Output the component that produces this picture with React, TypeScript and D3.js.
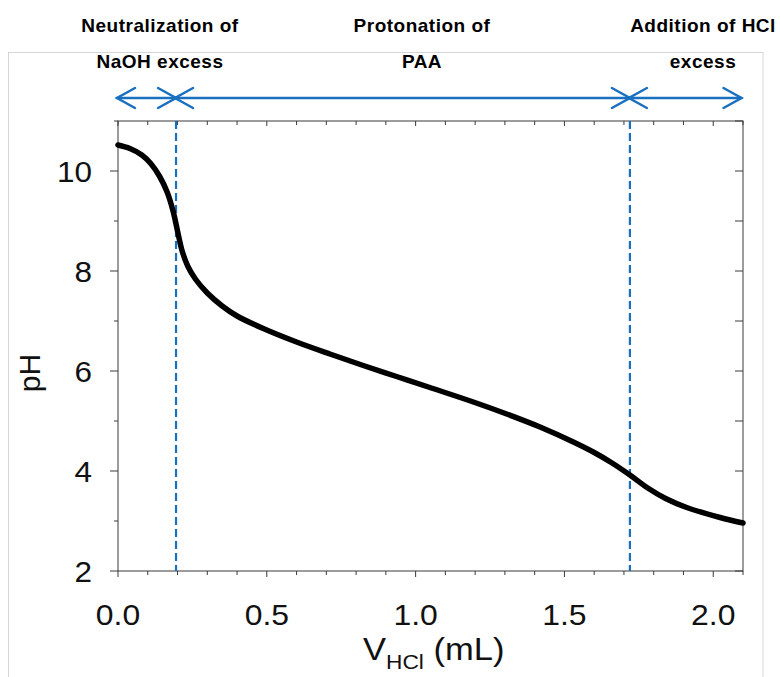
import React from "react";
import * as d3 from "d3";

const volumes = [0, 0.04, 0.08, 0.11, 0.14, 0.165, 0.185, 0.2, 0.215, 0.235, 0.26, 0.3, 0.35, 0.4, 0.488, 0.6, 0.712, 0.824, 0.936, 1.048, 1.194, 1.306, 1.418, 1.53, 1.6, 1.66, 1.72, 1.78, 1.84, 1.911, 2.023, 2.1];
const phValues = [10.52, 10.45, 10.32, 10.15, 9.89, 9.58, 9.2, 8.8, 8.41, 8.09, 7.84, 7.56, 7.3, 7.1, 6.85, 6.58, 6.34, 6.11, 5.89, 5.67, 5.38, 5.14, 4.88, 4.58, 4.37, 4.16, 3.92, 3.66, 3.45, 3.27, 3.07, 2.96];
const xTickLabels = ["0.0", "0.5", "1.0", "1.5", "2.0"];
const xTickValues = [0, 0.5, 1.0, 1.5, 2.0];
const yTickValues = [2, 4, 6, 8, 10];
const boundaries = [0.195, 1.72];
const regionStarts = [0, 0.195, 1.72];
const regionEnds = [0.195, 1.72, 2.095];
const regionLine1 = ["Neutralization of", "Protonation of", "Addition of HCl"];
const regionLine2 = ["NaOH excess", "PAA", "excess"];
const regionLabelX = [160, 422, 703];

const BLUE = "#1a70bf";
const AXIS = "#3a3a3a";

export default function App() {
  const x = d3.scaleLinear().domain([0, 2.1]).range([118, 743]);
  const y = d3.scaleLinear().domain([2, 11]).range([571, 121]);
  const data = volumes.map((v, i) => [v, phValues[i]] as [number, number]);
  const line = d3
    .line<[number, number]>()
    .x((d) => x(d[0]))
    .y((d) => y(d[1]))
    .curve(d3.curveCatmullRom.alpha(0.5));

  const xMinor = d3.range(0, 22).map((i) => i / 10);
  const yMinor = d3.range(2, 12);
  const arrowY = 98;
  const headL = 18;
  const headW = 10;

  const font = "Arial, 'Liberation Sans', Helvetica, sans-serif";

  return (
    <svg
      width={780}
      height={677}
      style={{ position: "absolute", left: 0, top: 0, background: "#fff" }}
      fontFamily={font}
    >
      <rect x={0} y={0} width={780} height={677} fill="#fff" />
      <rect x={8.5} y={52.5} width={754.5} height={700} fill="none" stroke="#d6d6d6" strokeWidth={1} />

      {/* region labels */}
      {regionLine1.map((t, i) => (
        <text key={"l1" + i} x={regionLabelX[i]} y={32} textAnchor="middle" fontWeight="bold" fontSize={19} letterSpacing={0.5} fill="#000">
          {t}
        </text>
      ))}
      {regionLine2.map((t, i) => (
        <text key={"l2" + i} x={regionLabelX[i]} y={68} textAnchor="middle" fontWeight="bold" fontSize={19} letterSpacing={0.5} fill="#000">
          {t}
        </text>
      ))}

      {/* arrows */}
      {regionStarts.map((s, i) => {
        const x0 = x(s) - 1;
        const x1 = x(regionEnds[i]);
        return (
          <g key={"ar" + i} stroke={BLUE} strokeWidth={2.5} fill="none" strokeLinecap="round">
            <line x1={x0} y1={arrowY} x2={x1} y2={arrowY} />
            <path d={`M${x0 + headL},${arrowY - headW} L${x0},${arrowY} L${x0 + headL},${arrowY + headW}`} />
            <path d={`M${x1 - headL},${arrowY - headW} L${x1},${arrowY} L${x1 - headL},${arrowY + headW}`} />
          </g>
        );
      })}

      {/* plot frame */}
      <rect x={118} y={121} width={625} height={450} fill="none" stroke={AXIS} strokeWidth={1} />

      {/* bottom ticks (outward) and top ticks (inward) */}
      {xMinor.map((v, i) => {
        const major = i % 5 === 0;
        return (
          <g key={"xt" + i} stroke={AXIS} strokeWidth={1}>
            <line x1={x(v)} x2={x(v)} y1={571} y2={571 + (major ? 6 : 4)} />
            <line x1={x(v)} x2={x(v)} y1={121} y2={121 + (major ? 5 : 4)} />
          </g>
        );
      })}
      {/* left ticks (outward), right ticks (inward) */}
      {yMinor.map((v) => {
        const major = v % 2 === 0;
        return (
          <g key={"yt" + v} stroke={AXIS} strokeWidth={1}>
            <line x1={118} x2={118 - (major ? 8 : 4)} y1={y(v)} y2={y(v)} />
            <line x1={743} x2={743 - 8} y1={y(v)} y2={y(v)} />
          </g>
        );
      })}

      {/* tick labels */}
      {xTickValues.map((v, i) => (
        <text key={"xl" + i} transform={`translate(${x(v)},625) scale(1.1,1)`} textAnchor="middle" fontSize={29} fill="#111">
          {xTickLabels[i]}
        </text>
      ))}
      {yTickValues.map((v) => (
        <text key={"yl" + v} transform={`translate(92,${y(v) + 10.5}) scale(1.05,1)`} textAnchor="end" fontSize={30} fill="#111">
          {v}
        </text>
      ))}

      {/* axis titles */}
      <text transform="translate(40,373) rotate(-90)" textAnchor="middle" fontSize={30} fill="#111">
        pH
      </text>
      <text transform="translate(363,660) scale(1.08,1)" fontSize={32} fill="#111">
        V
        <tspan dy={9} fontSize={21}>HCl</tspan>
        <tspan dy={-9} fontSize={32}> (mL)</tspan>
      </text>

      {/* boundaries */}
      {boundaries.map((b, i) => (
        <line key={"b" + i} x1={x(b)} x2={x(b)} y1={121} y2={571} stroke={BLUE} strokeWidth={2.2} strokeDasharray="8,4" />
      ))}

      {/* titration curve */}
      <path d={line(data) || ""} fill="none" stroke="#000" strokeWidth={5.5} strokeLinecap="round" strokeLinejoin="round" />
    </svg>
  );
}
